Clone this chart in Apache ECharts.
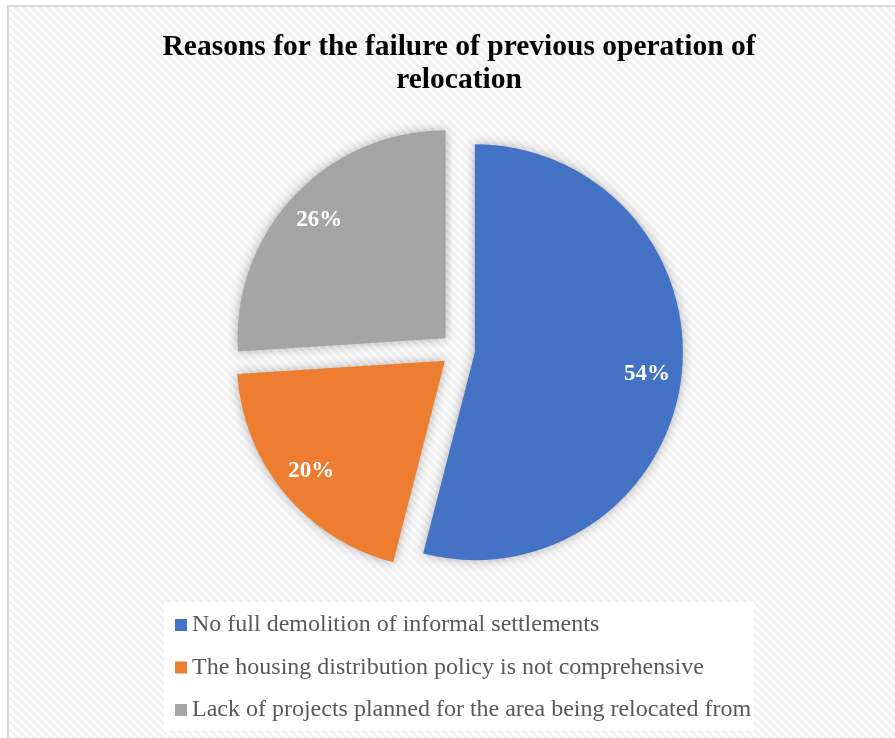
<!DOCTYPE html>
<html>
<head>
<meta charset="utf-8">
<title>Reasons for the failure of previous operation of relocation</title>
<script src="https://cdn.jsdelivr.net/npm/echarts@6/dist/echarts.min.js"></script>
<style>
  html, body { margin: 0; padding: 0; background: #ffffff; }
  #chart { width: 895px; height: 738px; }
</style>
</head>
<body>
<div id="chart"></div>
<script>
// Survey answers (share of respondents, %)
const reasons = [
  'No full demolition of informal settlements',
  'The housing distribution policy is not comprehensive',
  'Lack of projects planned for the area being relocated from'
];
const shares = [54, 20, 26];
const sliceColors = ['#4472C4', '#ED7D31', '#A5A5A5'];

// Faint diagonal hatch used as the chart-area fill
function makeHatch() {
  const c = document.createElement('canvas');
  c.width = 8; c.height = 8;
  const g = c.getContext('2d');
  g.fillStyle = '#fcfcfc';
  g.fillRect(0, 0, 8, 8);
  g.strokeStyle = '#f0f0f0';
  g.lineWidth = 2.5;
  g.beginPath();
  g.moveTo(-4, -4); g.lineTo(12, 12);
  g.moveTo(-4, 4);  g.lineTo(4, 12);
  g.moveTo(4, -4);  g.lineTo(12, 4);
  g.stroke();
  return c;
}

const pieCenter = [458, 350];
const pieRadius = 208;
const explode = 17;
const serif = '"Liberation Serif", "Times New Roman", serif';

const chart = echarts.init(document.getElementById('chart'), null, { renderer: 'canvas' });

chart.setOption({
  animation: false,
  backgroundColor: '#ffffff',
  graphic: [{
    type: 'rect',
    z: -10,
    silent: true,
    shape: { x: 8, y: 6, width: 900, height: 740 },
    style: {
      fill: { image: makeHatch(), repeat: 'repeat' },
      stroke: '#d9d9d9',
      lineWidth: 2
    }
  }],
  title: {
    text: 'Reasons for the failure of previous operation of\nrelocation',
    left: 459,
    textAlign: 'center',
    top: 31,
    padding: 0,
    textStyle: {
      fontFamily: serif,
      fontSize: 29.5,
      fontWeight: 'bold',
      color: '#000000',
      lineHeight: 33
    }
  },
  legend: {
    orient: 'vertical',
    left: 164,
    top: 602,
    data: reasons,
    icon: 'rect',
    itemWidth: 12,
    itemHeight: 12,
    itemGap: 16.5,
    backgroundColor: '#ffffff',
    padding: [10, 3, 8, 11],
    selectedMode: false,
    textStyle: {
      fontFamily: serif,
      fontSize: 24,
      lineHeight: 26,
      color: '#595959'
    }
  },
  series: [
    {
      // the exploded slices
      type: 'pie',
      center: pieCenter,
      radius: [0, pieRadius],
      startAngle: 90,
      clockwise: true,
      selectedMode: 'multiple',
      selectedOffset: explode,
      silent: true,
      label: { show: false },
      labelLine: { show: false },
      itemStyle: {
        shadowBlur: 12,
        shadowColor: 'rgba(0,0,0,0.3)'
      },
      data: reasons.map((name, i) => ({
        name: name,
        value: shares[i],
        selected: true,
        itemStyle: { color: sliceColors[i] }
      }))
    },
    {
      // transparent ring that carries the percentage labels near the rim
      type: 'pie',
      center: pieCenter,
      radius: [Math.round(pieRadius * 0.64), pieRadius],
      startAngle: 90,
      clockwise: true,
      selectedMode: 'multiple',
      selectedOffset: explode,
      silent: true,
      z: 3,
      itemStyle: { color: 'rgba(0,0,0,0)' },
      label: {
        show: true,
        position: 'inside',
        formatter: p => p.value + '%',
        fontFamily: serif,
        fontSize: 23,
        fontWeight: 'bold',
        color: '#ffffff'
      },
      labelLine: { show: false },
      data: reasons.map((name, i) => ({
        name: name,
        value: shares[i],
        selected: true
      }))
    }
  ]
});
</script>
</body>
</html>
